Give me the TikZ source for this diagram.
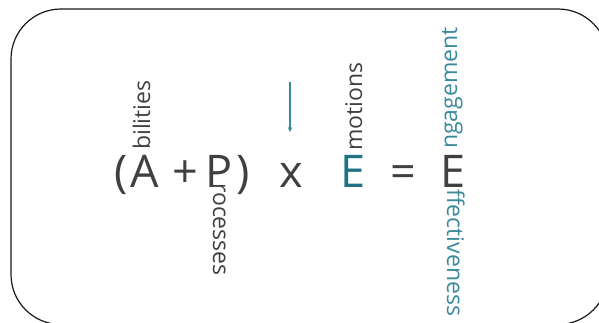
\documentclass[tikz,border=0pt]{standalone}
\usepackage{fontspec}
\setmainfont{Open Sans}
\usetikzlibrary{arrows.meta}
\definecolor{inkgray}{HTML}{404040}
\definecolor{tealdark}{HTML}{1F7384}
\definecolor{teallight}{HTML}{3A8A9C}

\begin{document}
\begin{tikzpicture}[x=1pt,y=1pt,big/.style={text=inkgray,inner sep=0pt,anchor=base,font=\fontsize{45}{45}\selectfont},small/.style={text=inkgray,inner sep=0pt,anchor=base west,font=\fontsize{23}{23}\selectfont},frame/.style={draw=black!90,line width=1.2pt,rounded corners=50pt},arrow/.style={draw=teallight,line width=1.1pt,-{Stealth[length=5pt,width=4.5pt]}}]
\useasboundingbox (0,0) rectangle (599,322);
\draw[frame] (11,-2.5) rectangle (608,313);
% the formula
\node[big] (lpar) at (121,135) {(};
\node[big] (abil) at (145,135) {A};
\node[big] (plus) at (185,135) {+};
\node[big] (proc) at (219,135) {P};
\node[big] (rpar) at (243,135) {)};
\node[big] (times) at (291,135) {x};
\node[big, text=tealdark] (emot) at (353,135) {E};
\node[big] (equals) at (403,135) {=};
\node[big] (eff) at (453,135) {E};
% the rest of each word
\node[small, rotate=90] (bilities) at (150,172) {bilities};
\node[small, rotate=-90] (rocesses) at (213,139) {rocesses};
\node[small, rotate=90] (motions) at (362,171) {motions};
\node[small, rotate=90, text=teallight] (engage) at (457,173) {ngagement};
\node[small, rotate=-90, text=teallight] (effect) at (447,133) {ffectiveness};
% pointer above the x
\coordinate (arrtop) at (290,240);
\coordinate (arrtip) at (290,190);
\draw[arrow] (arrtop) -- (arrtip);
\end{tikzpicture}
\end{document}
